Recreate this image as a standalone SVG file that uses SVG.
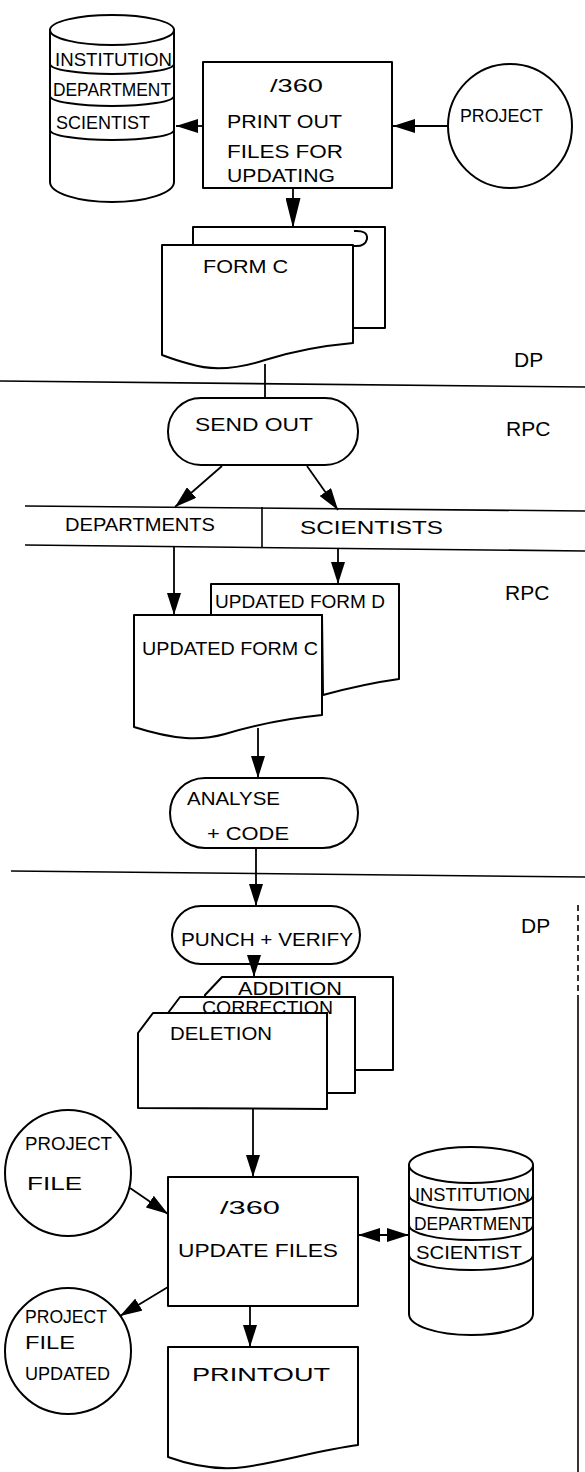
<svg xmlns="http://www.w3.org/2000/svg" width="585" height="1472" viewBox="0 0 585 1472">
<defs>
<style>
.s{fill:#fff;stroke:#000;stroke-width:2;stroke-linejoin:round}
.n{fill:none;stroke:#000;stroke-width:2}
.ln{fill:none;stroke:#000;stroke-width:1.6}
.c{fill:none;stroke:#000;stroke-width:1.8}
.hw{font-family:"Liberation Sans",Arial,sans-serif;font-size:19px;fill:#000;dominant-baseline:central}
.ty{font-family:"Liberation Sans",Arial,sans-serif;font-size:21px;fill:#000;dominant-baseline:central}
</style>
<marker id="ah" viewBox="0 0 22 14" refX="22" refY="7" markerWidth="22" markerHeight="14" markerUnits="userSpaceOnUse" orient="auto-start-reverse"><path d="M0,0 L22,7 L0,14 z" fill="#000"/></marker>
<marker id="ahl" viewBox="0 0 30 15" refX="30" refY="7.5" markerWidth="30" markerHeight="15" markerUnits="userSpaceOnUse" orient="auto"><path d="M0,0 L30,7.5 L0,15 z" fill="#000"/></marker>
</defs>
<rect width="585" height="1472" fill="#fff"/>

<g id="lanes">
<path class="ln" d="M0,381 L585,387"/>
<path class="ln" d="M25,506 L585,511"/>
<path class="ln" d="M25,545 L585,551"/>
<path class="ln" d="M262,507 L262,547"/>
<path class="ln" d="M11,871 L585,877"/>
<path class="ln" d="M578,905 L578,1000" stroke-dasharray="6 4"/>
<path class="ln" d="M578,1000 L578,1472"/>
<text class="ty" x="514" y="359">DP</text>
<text class="ty" x="506" y="428">RPC</text>
<text class="hw" x="65" y="524" textLength="150" lengthAdjust="spacingAndGlyphs">DEPARTMENTS</text>
<text class="hw" x="300" y="527" textLength="143" lengthAdjust="spacingAndGlyphs">SCIENTISTS</text>
<text class="ty" x="505" y="592">RPC</text>
<text class="ty" x="521" y="925">DP</text>
</g>

<g id="db-top">
<path class="s" d="M50,30 L50,182 A62,20 0 0 0 174,182 L174,30 Z"/>
<ellipse class="s" cx="112" cy="30" rx="62" ry="15"/>
<path class="n" d="M50,64 A62,10 0 0 0 174,64"/>
<path class="n" d="M50,96 A62,10 0 0 0 174,96"/>
<path class="n" d="M50,130 A62,10 0 0 0 174,130"/>
<text class="hw" x="55" y="59" font-size="18" textLength="117" lengthAdjust="spacingAndGlyphs">INSTITUTION</text>
<text class="hw" x="53" y="89" font-size="18" textLength="118" lengthAdjust="spacingAndGlyphs">DEPARTMENT</text>
<text class="hw" x="56" y="122" font-size="18" textLength="94" lengthAdjust="spacingAndGlyphs">SCIENTIST</text>
</g>

<g id="proc-print">
<rect class="s" x="203" y="62" width="189" height="126"/>
<text class="hw" x="270" y="85" font-size="22" textLength="53" lengthAdjust="spacingAndGlyphs">/360</text>
<text class="hw" x="227" y="121" font-size="21" textLength="115" lengthAdjust="spacingAndGlyphs">PRINT OUT</text>
<text class="hw" x="227" y="151" font-size="21" textLength="116" lengthAdjust="spacingAndGlyphs">FILES FOR</text>
<text class="hw" x="227" y="175" font-size="21" textLength="108" lengthAdjust="spacingAndGlyphs">UPDATING</text>
</g>

<g id="project">
<circle class="s" cx="510" cy="126" r="62"/>
<text class="hw" x="460" y="115" textLength="83" lengthAdjust="spacingAndGlyphs">PROJECT</text>
</g>

<g id="form-c">
<path class="s" d="M193,245 L193,227 L385,227 L385,328 L353,328"/>
<path class="n" d="M354,231 Q368,230 367,239 Q365,247 354,246"/>
<path class="s" d="M162,245 L353,245 L353,343 C320,346 290,352 265,360 C240,368 215,372 190,364 C178,361 170,358 162,355 Z"/>
<text class="hw" x="203" y="266" textLength="85" lengthAdjust="spacingAndGlyphs">FORM C</text>
</g>

<g id="send-out">
<rect class="s" x="168" y="398" width="190" height="67" rx="33" ry="33"/>
<text class="hw" x="195" y="424" textLength="118" lengthAdjust="spacingAndGlyphs">SEND OUT</text>
</g>

<g id="updated-form-d">
<path class="s" d="M211,615 L211,584 L399,584 L399,679 C370,683 345,689 323,695 L322,615 Z"/>
<text class="hw" x="215" y="601" font-size="18" textLength="170" lengthAdjust="spacingAndGlyphs">UPDATED FORM D</text>
</g>

<g id="updated-form-c">
<path class="s" d="M134,615 L322,615 L322,715 C290,718 255,725 225,734 C200,741 175,740 134,727 Z"/>
<text class="hw" x="142" y="648" textLength="176" lengthAdjust="spacingAndGlyphs">UPDATED FORM C</text>
</g>

<g id="analyse">
<rect class="s" x="170" y="778" width="188" height="70" rx="35" ry="35"/>
<text class="hw" x="187" y="798" font-size="18" textLength="93" lengthAdjust="spacingAndGlyphs">ANALYSE</text>
<text class="hw" x="207" y="833" font-size="18" textLength="82" lengthAdjust="spacingAndGlyphs">+ CODE</text>
</g>

<g id="punch">
<rect class="s" x="172" y="906" width="188" height="58" rx="29" ry="29"/>
<text class="hw" x="181" y="939" font-size="20" textLength="172" lengthAdjust="spacingAndGlyphs">PUNCH + VERIFY</text>
</g>

<g id="cards">
<path class="s" d="M205,995 L222,977 L393,977 L393,1070 L355,1070 L355,997 L205,997 Z"/>
<path class="s" d="M168,1013 L180,997 L355,997 L355,1093 L327,1093 L327,1013 Z"/>
<path class="s" d="M138,1033 L153,1013 L327,1013 L327,1109 L138,1108 Z"/>
<text class="hw" x="238" y="988" font-size="18" textLength="104" lengthAdjust="spacingAndGlyphs">ADDITION</text>
<text class="hw" x="202" y="1007" font-size="18" textLength="131" lengthAdjust="spacingAndGlyphs">CORRECTION</text>
<text class="hw" x="170" y="1033" font-size="18" textLength="102" lengthAdjust="spacingAndGlyphs">DELETION</text>
</g>

<g id="project-file">
<circle class="s" cx="68" cy="1173" r="63"/>
<text class="hw" x="25" y="1143" font-size="18" textLength="87" lengthAdjust="spacingAndGlyphs">PROJECT</text>
<text class="hw" x="27" y="1183" font-size="18" textLength="55" lengthAdjust="spacingAndGlyphs">FILE</text>
</g>

<g id="proc-update">
<rect class="s" x="168" y="1177" width="190" height="129"/>
<text class="hw" x="220" y="1207" font-size="21" textLength="60" lengthAdjust="spacingAndGlyphs">/360</text>
<text class="hw" x="178" y="1250" font-size="20" textLength="160" lengthAdjust="spacingAndGlyphs">UPDATE FILES</text>
</g>

<g id="db-bottom">
<path class="s" d="M409,1165 L409,1314 A62,21 0 0 0 533,1314 L533,1165 Z"/>
<ellipse class="s" cx="471" cy="1165" rx="62" ry="18"/>
<path class="n" d="M409,1195 A62,15 0 0 0 533,1195"/>
<path class="n" d="M409,1225 A62,15 0 0 0 533,1225"/>
<path class="n" d="M409,1255 A62,15 0 0 0 533,1255"/>
<text class="hw" x="415" y="1194" font-size="17" textLength="115" lengthAdjust="spacingAndGlyphs">INSTITUTION</text>
<text class="hw" x="414" y="1223" font-size="17" textLength="118" lengthAdjust="spacingAndGlyphs">DEPARTMENT</text>
<text class="hw" x="416" y="1252" font-size="17" textLength="106" lengthAdjust="spacingAndGlyphs">SCIENTIST</text>
</g>

<g id="project-file-updated">
<circle class="s" cx="68" cy="1351" r="63"/>
<text class="hw" x="25" y="1316" font-size="17" textLength="82" lengthAdjust="spacingAndGlyphs">PROJECT</text>
<text class="hw" x="25" y="1342" font-size="17" textLength="50" lengthAdjust="spacingAndGlyphs">FILE</text>
<text class="hw" x="25" y="1373" font-size="17" textLength="85" lengthAdjust="spacingAndGlyphs">UPDATED</text>
</g>

<g id="printout">
<path class="s" d="M168,1347 L358,1347 L358,1445 C320,1450 280,1462 245,1467 C215,1471 190,1465 168,1457 Z"/>
<text class="hw" x="192" y="1374" font-size="21" textLength="138" lengthAdjust="spacingAndGlyphs">PRINTOUT</text>
</g>

<g id="connectors">
<path class="c" d="M203,126 L176,126" marker-end="url(#ah)"/>
<path class="c" d="M448,126 L393,126" marker-end="url(#ah)"/>
<path class="c" d="M293,188 L293,228" marker-end="url(#ahl)"/>
<path class="c" d="M265,364 L265,398"/>
<path class="c" d="M222,466 L175,507" marker-end="url(#ah)"/>
<path class="c" d="M307,466 L338,510" marker-end="url(#ah)"/>
<path class="c" d="M174,547 L174,615" marker-end="url(#ah)"/>
<path class="c" d="M338,549 L338,584" marker-end="url(#ah)"/>
<path class="c" d="M258,728 L258,778" marker-end="url(#ah)"/>
<path class="c" d="M256,848 L256,906" marker-end="url(#ah)"/>
<path class="c" d="M254,964 L254,977" marker-end="url(#ah)"/>
<path class="c" d="M253,1109 L253,1177" marker-end="url(#ah)"/>
<path class="c" d="M130,1188 L168,1214" marker-end="url(#ah)"/>
<path class="c" d="M168,1287 L120,1316" marker-end="url(#ah)"/>
<path class="c" d="M358,1235 L409,1235" marker-start="url(#ah)" marker-end="url(#ah)"/>
<path class="c" d="M250,1306 L250,1347" marker-end="url(#ah)"/>
</g>
</svg>
